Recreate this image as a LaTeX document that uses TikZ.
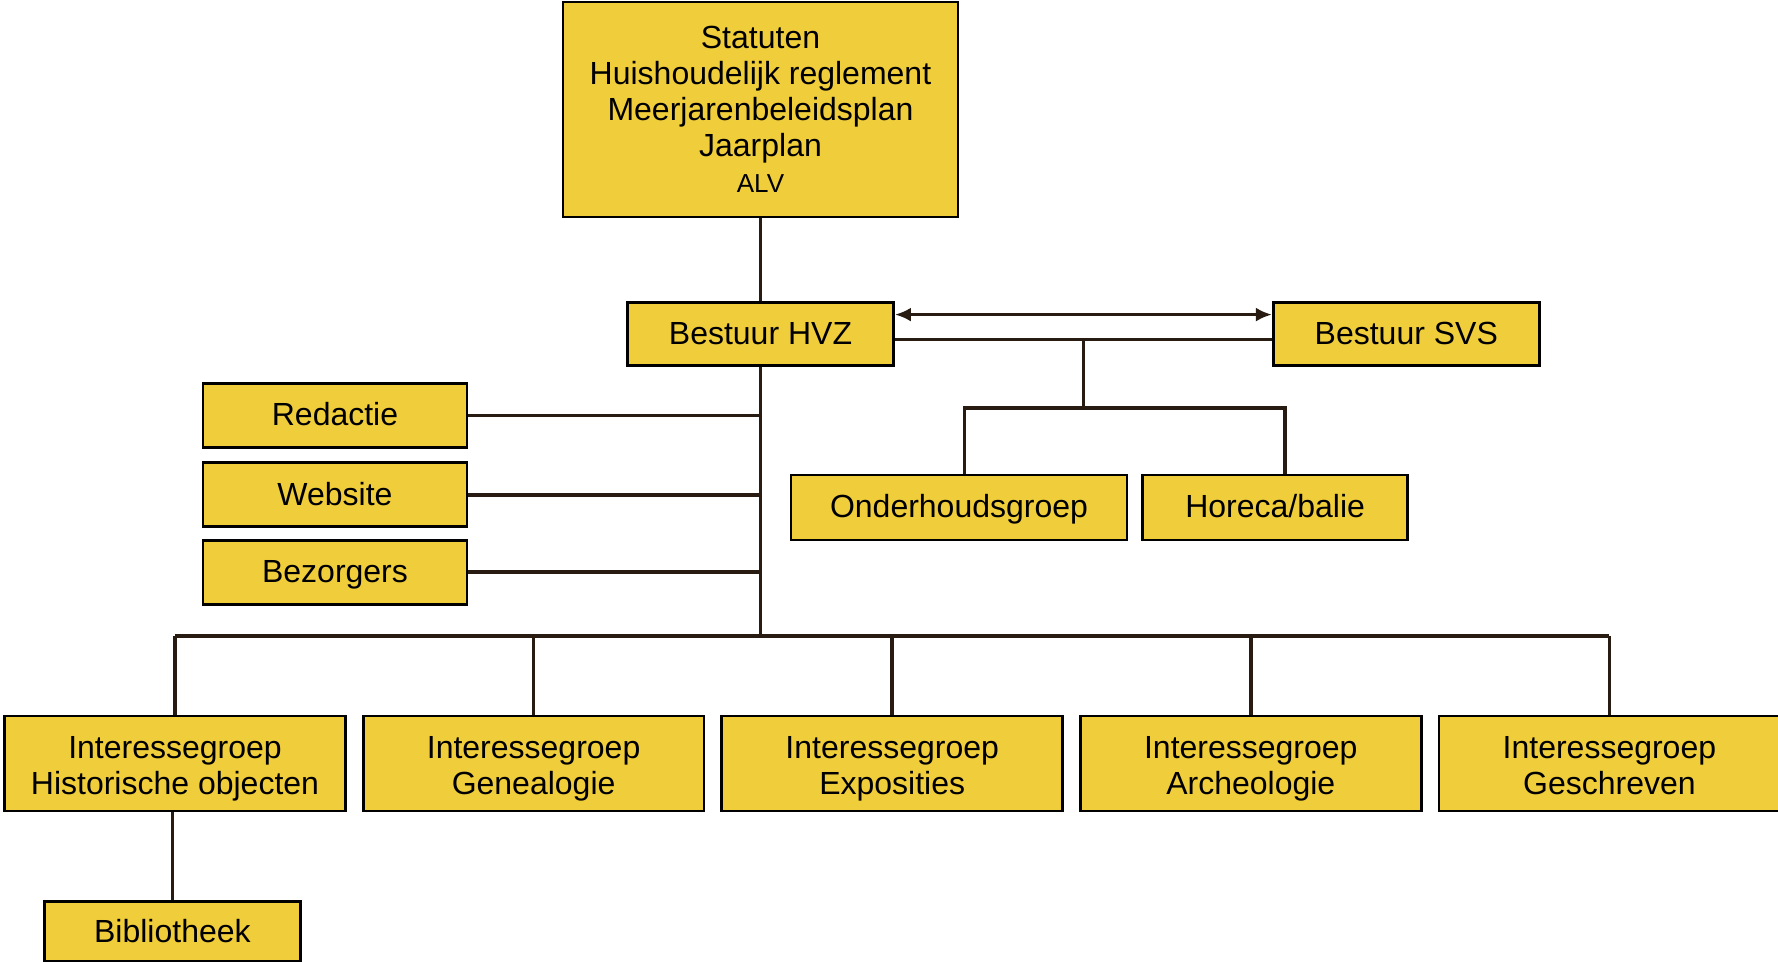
\documentclass[tikz,border=0pt]{standalone}
\usepackage{fontspec}
\setmainfont{Liberation Sans}
\usetikzlibrary{positioning,chains,arrows.meta}
\definecolor{myyellow}{RGB}{240,205,58}
\definecolor{myline}{RGB}{40,28,18}

\begin{document}
\begin{tikzpicture}[x=0.5pt,y=-0.5pt,
  box/.style={draw=black,line width=1.4pt,fill=myyellow,align=center,inner sep=0pt,
    font=\fontsize{16}{18}\selectfont},
  onebox/.style={box,text height=11.7pt,text depth=1.5pt},
  sidebox/.style={onebox,minimum width=132pt,minimum height=32pt},
  groupbox/.style={box,minimum width=170.4pt,minimum height=47.5pt,text height=30.5pt,text depth=0pt},
  link/.style={draw=myline,line width=1.8pt},
  tip/.tip={Latex[length=8pt,width=7pt]}]
  \useasboundingbox (0,0) rectangle (1778,962);
  % top of the tree
  \node[box,minimum width=197.5pt,minimum height=107.5pt] (alv) at (760.5,109.5)
    {Statuten\\Huishoudelijk reglement\\Meerjarenbeleidsplan\\Jaarplan\\{\fontsize{13}{18}\selectfont ALV}};
  \node[onebox,below=41.4pt of alv,minimum width=133pt,minimum height=31.5pt] (hvz) {Bestuur HVZ};
  \node[onebox,right=188.5pt of hvz,minimum width=133pt,minimum height=31.5pt] (svs) {Bestuur SVS};
  % side boxes
  \node[sidebox] (redactie) at (335,415.5) {Redactie};
  \node[sidebox,below=6.3pt of redactie] (website) {Website};
  \node[sidebox,below=5.2pt of website] (bezorgers) {Bezorgers};
  \node[onebox,minimum width=168pt,minimum height=32.5pt] (onderhoud) at (959,507.5) {Onderhoudsgroep};
  \node[onebox,right=6.4pt of onderhoud,minimum width=132.5pt,minimum height=32.5pt] (horeca) {Horeca/balie};
  % interessegroepen
  \begin{scope}[start chain=going right,node distance=7.5pt]
    \node[groupbox,on chain] (ig1) at (175,763.5) {Interessegroep\\Historische objecten};
    \node[groupbox,on chain] (ig2) {Interessegroep\\Genealogie};
    \node[groupbox,on chain] (ig3) {Interessegroep\\Exposities};
    \node[groupbox,on chain] (ig4) {Interessegroep\\Archeologie};
    \node[groupbox,on chain] (ig5) {Interessegroep\\Geschreven};
  \end{scope}
  \node[onebox,below=44pt of ig1,xshift=-1.3pt,minimum width=128pt,minimum height=30pt] (bib) {Bibliotheek};
  % connectors
  \draw[link] (alv) -- (hvz);
  \draw[link,tip-tip] ([yshift=9.75pt]hvz.east) -- ([yshift=9.75pt]svs.west);
  \draw[link] ([yshift=-2.75pt]hvz.east) -- coordinate[midway] (mid) ([yshift=-2.75pt]svs.west);
  \coordinate (fork) at (mid |- 0,408);
  \draw[link] (mid) -- (fork);
  \draw[link] ([xshift=2.8pt]onderhoud.north) |- (fork) -| ([xshift=5pt]horeca.north);
  \coordinate (bus) at (hvz.south |- 0,636);
  \draw[link] (hvz.south) -- (bus);
  \foreach \n in {redactie,website,bezorgers}
    {\draw[link] (\n.east) -- (\n.east -| hvz.south);}
  \draw[link] (ig1.north |- bus) -- (ig5.north |- bus);
  \foreach \i in {1,...,5}
    {\draw[link] (ig\i.north |- bus) -- (ig\i.north);}
  \draw[link] (bib.north |- ig1.south) -- (bib.north);
\end{tikzpicture}
\end{document}
